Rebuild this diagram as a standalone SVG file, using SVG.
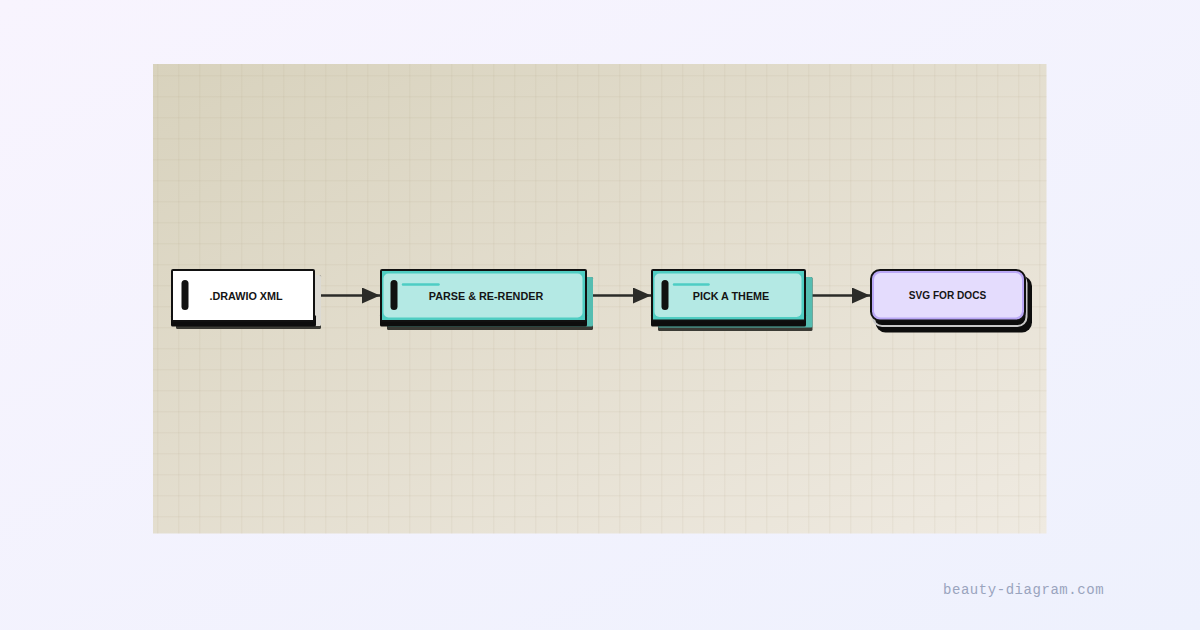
<svg xmlns="http://www.w3.org/2000/svg" width="1200" height="630" viewBox="0 0 1200 630">
<defs>
<linearGradient id="bg" x1="0" y1="0" x2="1" y2="1">
<stop offset="0" stop-color="#f8f4fe"/>
<stop offset="1" stop-color="#eef1fd"/>
</linearGradient>
<linearGradient id="panel" x1="0" y1="0" x2="1" y2="1">
<stop offset="0" stop-color="#d8d2bd"/>
<stop offset="1" stop-color="#efeae1"/>
</linearGradient>
<pattern id="grid" patternUnits="userSpaceOnUse" x="157.3" y="75.3" width="21" height="21">
<path d="M0.5 0 V21 M0 0.5 H21" fill="none" stroke="#a89c7c" stroke-opacity="0.13" stroke-width="1"/>
</pattern>
<marker id="arrow" markerUnits="userSpaceOnUse" markerWidth="20" markerHeight="18" refX="18" refY="8" orient="auto">
<path d="M0 0 L18 8 L0 16 Z" fill="#2b2b28"/>
</marker>
<style>
.lbl{font-family:"Liberation Sans",Arial,sans-serif;font-weight:700;font-size:10.8px;fill:#141414;text-anchor:middle;dominant-baseline:central}
.edge{stroke:#2b2b28;stroke-width:2.5;fill:none}
.pill{fill:#111}
.depth{fill:#0d0d0d}
.tealOuter{fill:#4fcdc2;stroke:#111;stroke-width:2}
.tealInner{fill:#b4e9e4}
.tealShadow{fill:#55bdb1}
.accent{stroke:#4ecdc4;stroke-width:2.5;stroke-linecap:round}
.shadowEdge{fill:#3a3a34}
.mark{font-family:"Liberation Mono","DejaVu Sans Mono",monospace;font-size:14px;fill:#9aa4be;letter-spacing:0.55px}
</style>
</defs>
<rect width="1200" height="630" fill="url(#bg)"/>
<rect x="153" y="64" width="893.5" height="469.5" fill="url(#panel)"/>
<rect x="153" y="64" width="893.5" height="469.5" fill="url(#grid)"/>

<g id="connectors">
<line class="edge" x1="321" y1="295.5" x2="380" y2="295.5" marker-end="url(#arrow)"/>
<line class="edge" x1="593" y1="295.5" x2="651" y2="295.5" marker-end="url(#arrow)"/>
<line class="edge" x1="812" y1="295.5" x2="870" y2="295.5" marker-end="url(#arrow)"/>
</g>

<g id="node-drawio">
<rect x="176" y="275" width="145" height="54" rx="1.5" fill="#3a3a34"/>
<rect x="176" y="275" width="145" height="51" rx="1.5" fill="#dcdad3"/>
<rect class="depth" x="171" y="315" width="145" height="11.5" rx="1.5"/>
<rect x="172" y="270" width="142" height="51" rx="1" fill="#ffffff" stroke="#111" stroke-width="2"/>
<rect class="pill" x="181.5" y="280" width="7" height="30" rx="3.5"/>
<text class="lbl" x="246" y="295.5">.DRAWIO XML</text>
</g>

<g id="node-parse">
<rect class="shadowEdge" x="387" y="277" width="206" height="53" rx="1.5"/>
<rect class="tealShadow" x="387" y="277" width="206" height="49.5" rx="1.5"/>
<rect class="depth" x="380" y="314" width="207" height="12.5" rx="1.5"/>
<rect class="tealOuter" x="381" y="270" width="205" height="51" rx="1"/>
<rect class="tealInner" x="383.5" y="273.5" width="199" height="44" rx="5"/>
<rect class="pill" x="390.5" y="280" width="7" height="30" rx="3.5"/>
<line class="accent" x1="403" y1="284.5" x2="438.5" y2="284.5"/>
<text class="lbl" x="486" y="295.5">PARSE &amp; RE-RENDER</text>
</g>

<g id="node-theme">
<rect class="shadowEdge" x="658" y="277" width="154.5" height="54" rx="1.5"/>
<rect class="tealShadow" x="658" y="277" width="154.5" height="50.5" rx="1.5"/>
<rect class="depth" x="651" y="314" width="155" height="12.5" rx="1.5"/>
<rect class="tealOuter" x="652" y="270" width="153" height="50.5" rx="1"/>
<rect class="tealInner" x="654.5" y="273.5" width="147" height="43.5" rx="5"/>
<rect class="pill" x="661.5" y="280" width="7" height="30" rx="3.5"/>
<line class="accent" x1="674" y1="284.5" x2="708.5" y2="284.5"/>
<text class="lbl" x="731" y="295.5">PICK A THEME</text>
</g>

<g id="node-svg">
<rect x="875.5" y="276" width="156.5" height="56.5" rx="10" fill="#0d0d0d"/>
<rect x="873" y="274" width="153.5" height="52" rx="9" fill="none" stroke="#c9c9c9" stroke-width="2"/>
<rect x="871" y="270" width="154" height="50.5" rx="9" fill="#b9a7f5" stroke="#111" stroke-width="2"/>
<rect x="874" y="273" width="148" height="44.5" rx="6.5" fill="#e4dcfd"/>
<text class="lbl" x="947.5" y="295.5" style="font-size:10.1px">SVG FOR DOCS</text>
</g>

<text class="mark" x="943" y="594">beauty-diagram.com</text>
</svg>
